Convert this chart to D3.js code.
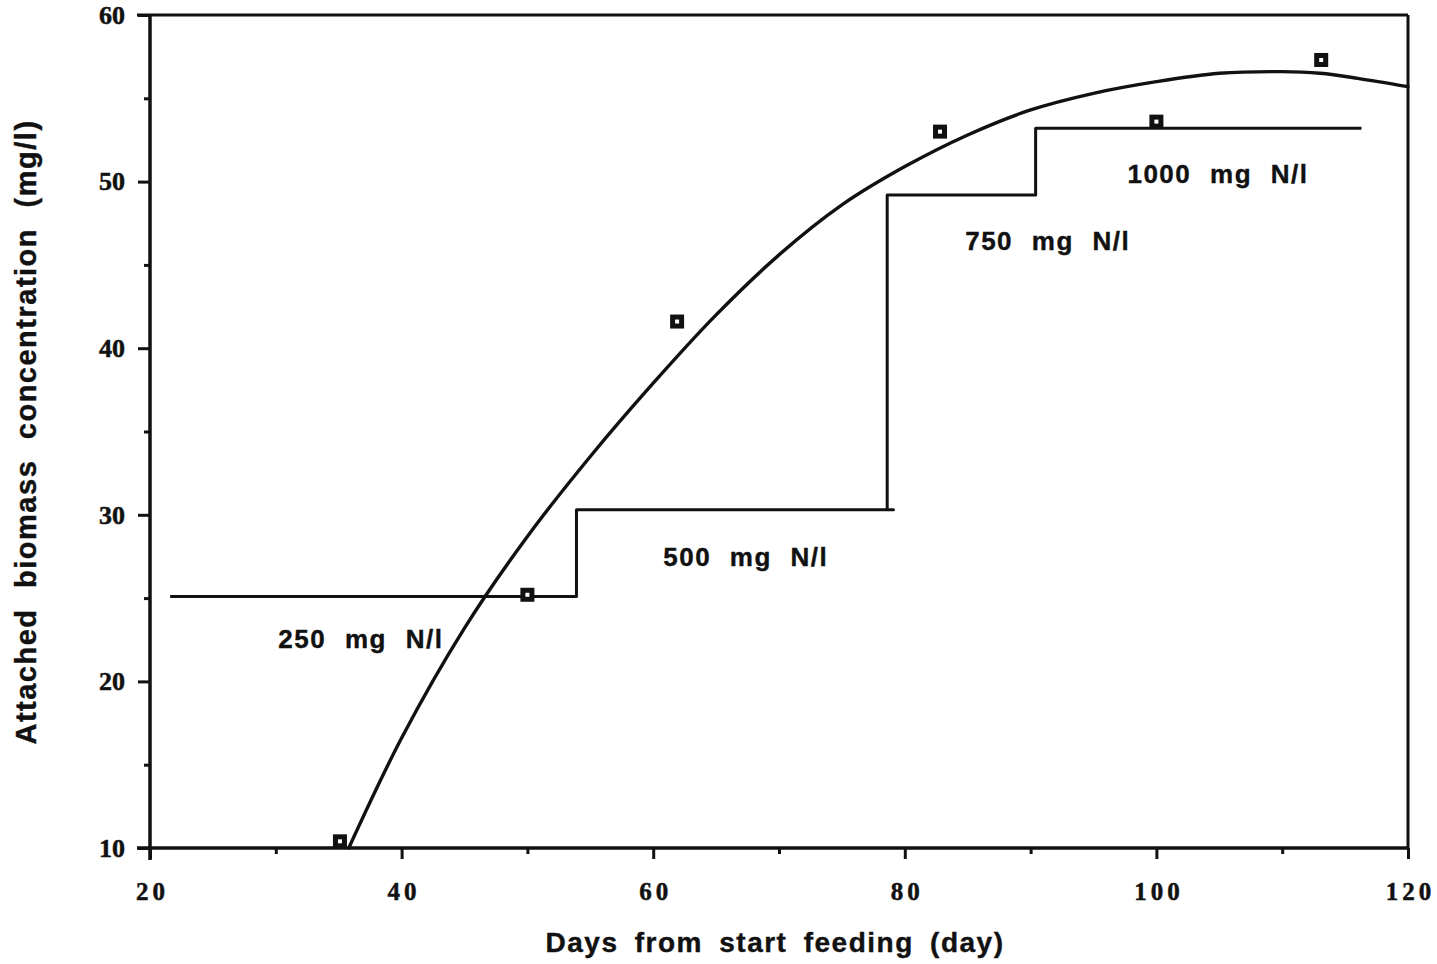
<!DOCTYPE html>
<html>
<head>
<meta charset="utf-8">
<script src="https://cdn.jsdelivr.net/npm/d3@7"></script>
<style>
  html, body { margin: 0; padding: 0; background: #fff; }
  svg { display: block; }
  .tick text { font-family: "Liberation Serif", "Times New Roman", serif; font-weight: bold; }
</style>
</head>
<body>
<svg id="chart" width="1437" height="964"></svg>
<script>
// Model curve of attached biomass (day, mg/l)
const curveDays = [35.8, 40, 45, 50, 55, 60, 65, 70, 75, 80, 85, 90, 95, 100, 105, 110, 113, 116, 120];
const curveValues = [10, 16.6, 23.2, 28.7, 33.5, 37.9, 42.0, 45.6, 48.6, 50.9, 52.8, 54.3, 55.3, 56.0, 56.5, 56.6, 56.5, 56.2, 55.7];

// Measured attached biomass
const obsDays = [35.1, 50, 61.9, 82.8, 100, 113.1];
const obsValues = [10.4, 25.2, 41.6, 53.0, 53.6, 57.3];

// Feed nitrogen concentration steps (path vertices)
const stepDays = [21.6, 53.9, 53.9, 79.1, 78.6, 78.6, 90.4, 90.4, 116.3];
const stepValues = [25.1, 25.1, 30.3, 30.3, 30.3, 49.2, 49.2, 53.2, 53.2];

// Feed level annotations
const feedLabels = ["250 mg N/l", "500 mg N/l", "750 mg N/l", "1000 mg N/l"];
const feedLabelDays = [30.2, 60.8, 84.8, 97.7];
const feedLabelValues = [22.0, 26.9, 45.9, 49.9];

const xMajorTicks = [20, 40, 60, 80, 100, 120];
const xMinorTicks = [30, 50, 70, 90, 110];
const yMajorTicks = [10, 20, 30, 40, 50, 60];
const yMinorTicks = [15, 25, 35, 45, 55];

const xTitle = "Days from start feeding (day)";
const yTitle = "Attached biomass concentration (mg/l)";

const svg = d3.select("#chart");
const mLeft = 150, mRight = 1408, mTop = 15, mBottom = 848;

const x = d3.scaleLinear().domain([20, 120]).range([mLeft, mRight]);
const y = d3.scaleLinear().domain([10, 60]).range([mBottom, mTop]);

const ink = "#111";
const sans = "'Liberation Sans', Arial, Helvetica, sans-serif";

// Frame: top and right edges
svg.append("line").attr("x1", mLeft - 13).attr("x2", mRight).attr("y1", mTop).attr("y2", mTop)
  .attr("stroke", ink).attr("stroke-width", 3);
svg.append("line").attr("x1", mRight).attr("x2", mRight).attr("y1", mTop).attr("y2", mBottom)
  .attr("stroke", ink).attr("stroke-width", 3);

// X axis
const gx = svg.append("g").attr("transform", `translate(0,${mBottom})`);
gx.call(d3.axisBottom(x).tickValues(xMajorTicks).tickSize(11).tickPadding(23));
const gxm = svg.append("g").attr("transform", `translate(0,${mBottom})`);
gxm.call(d3.axisBottom(x).tickValues(xMinorTicks).tickSize(6).tickFormat(""));
[gx, gxm].forEach(g => {
  g.select(".domain").attr("stroke", ink).attr("stroke-width", 3)
    .attr("d", `M${mLeft - 13},0H${mRight}`);
  g.selectAll(".tick line").attr("stroke", ink).attr("stroke-width", 3);
});
gx.selectAll(".tick text").attr("font-size", 25).attr("fill", ink)
  .attr("letter-spacing", "4px").attr("dx", "2px")
  .attr("stroke", ink).attr("stroke-width", 0.5);

// Y axis
const gy = svg.append("g").attr("transform", `translate(${mLeft},0)`);
gy.call(d3.axisLeft(y).tickValues(yMajorTicks).tickSize(12).tickPadding(13));
const gym = svg.append("g").attr("transform", `translate(${mLeft},0)`);
gym.call(d3.axisLeft(y).tickValues(yMinorTicks).tickSize(6).tickFormat(""));
[gy, gym].forEach(g => {
  g.select(".domain").attr("stroke", ink).attr("stroke-width", 3)
    .attr("d", `M0,${mTop}V${mBottom + 12}`);
  g.selectAll(".tick line").attr("stroke", ink).attr("stroke-width", 3);
});
gy.selectAll(".tick text").attr("font-size", 26).attr("fill", ink)
  .attr("stroke", ink).attr("stroke-width", 0.5);

// Step line of feed concentration
const stepPts = stepDays.map((d, i) => [d, stepValues[i]]);
svg.append("path")
  .attr("d", d3.line().x(d => x(d[0])).y(d => y(d[1]))(stepPts))
  .attr("fill", "none").attr("stroke", ink).attr("stroke-width", 3)
  .attr("stroke-linejoin", "round");

// Model curve
const curvePts = curveDays.map((d, i) => [d, curveValues[i]]);
svg.append("path")
  .attr("d", d3.line().x(d => x(d[0])).y(d => y(d[1])).curve(d3.curveCatmullRom.alpha(0.5))(curvePts))
  .attr("fill", "none").attr("stroke", ink).attr("stroke-width", 3.4)
  .attr("stroke-linecap", "round");

// Observation markers
const obs = obsDays.map((d, i) => [d, obsValues[i]]);
const mk = svg.append("g").selectAll("g").data(obs).join("g")
  .attr("transform", d => `translate(${x(d[0])},${y(d[1])})`);
mk.append("rect").attr("x", -7).attr("y", -7).attr("width", 14).attr("height", 14).attr("fill", ink);
mk.append("rect").attr("x", -2).attr("y", -2).attr("width", 4).attr("height", 4).attr("fill", "#fff");

// Feed level labels
svg.append("g").selectAll("text").data(feedLabels).join("text")
  .attr("x", (d, i) => x(feedLabelDays[i]))
  .attr("y", (d, i) => y(feedLabelValues[i]))
  .attr("font-family", sans)
  .attr("font-weight", "bold").attr("font-size", 26).attr("fill", ink)
  .attr("letter-spacing", "1.5px").attr("word-spacing", "10px")
  .attr("stroke", ink).attr("stroke-width", 0.4)
  .text(d => d);

// Axis titles
svg.append("text")
  .attr("x", 775).attr("y", 952).attr("text-anchor", "middle")
  .attr("font-family", sans)
  .attr("font-weight", "bold").attr("font-size", 28).attr("fill", ink)
  .attr("word-spacing", "7px").attr("letter-spacing", "1.5px")
  .attr("stroke", ink).attr("stroke-width", 0.4)
  .text(xTitle);

svg.append("text")
  .attr("transform", "translate(36,432) rotate(-90)")
  .attr("text-anchor", "middle")
  .attr("font-family", sans)
  .attr("font-weight", "bold").attr("font-size", 29).attr("fill", ink)
  .attr("word-spacing", "11px").attr("letter-spacing", "1.5px")
  .attr("stroke", ink).attr("stroke-width", 0.4)
  .text(yTitle);
</script>
</body>
</html>
